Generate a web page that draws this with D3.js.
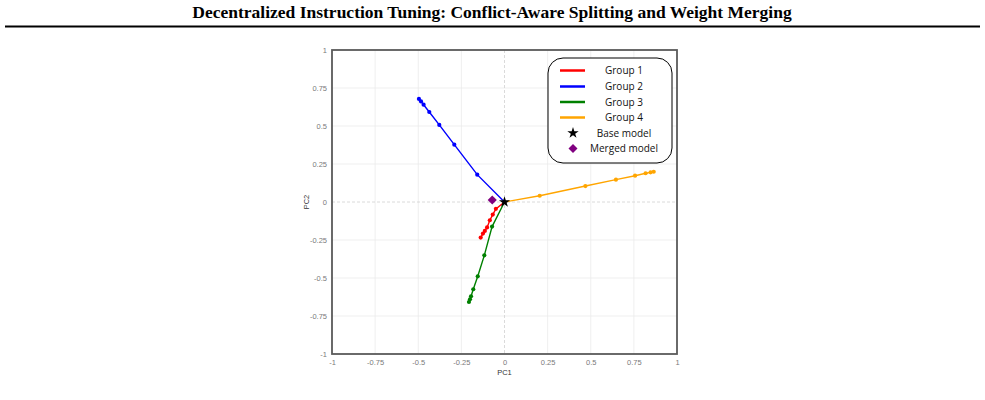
<!DOCTYPE html>
<html>
<head>
<meta charset="utf-8">
<script src="https://cdn.jsdelivr.net/npm/d3@7"></script>
<style>
body { margin: 0; background: #fff; }
</style>
</head>
<body>
<div id="chart"></div>
<script>
var svgwidth = 985;
var svgheight = 400;

var title = "Decentralized Instruction Tuning: Conflict-Aware Splitting and Weight Merging";

var tickvalues = [-1, -0.75, -0.5, -0.25, 0, 0.25, 0.5, 0.75, 1];
var ticklabels = ["-1", "-0.75", "-0.5", "-0.25", "0", "0.25", "0.5", "0.75", "1"];

var groupnames = ["Group 1", "Group 2", "Group 3", "Group 4"];
var groupcolors = ["#ff0000", "#0000ff", "#008000", "#ffa500"];

// trajectory points (PC1, PC2) for each group, going away from the base model
var group1 = [[-0.05, -0.045], [-0.068, -0.083], [-0.085, -0.12], [-0.101, -0.167], [-0.114, -0.19], [-0.125, -0.208], [-0.138, -0.234]];
var group2 = [[-0.158, 0.18], [-0.291, 0.377], [-0.378, 0.507], [-0.436, 0.592], [-0.469, 0.64], [-0.484, 0.662], [-0.496, 0.678]];
var group3 = [[-0.072, -0.162], [-0.117, -0.351], [-0.155, -0.489], [-0.181, -0.574], [-0.194, -0.62], [-0.2, -0.64], [-0.206, -0.658]];
var group4 = [[0.204, 0.041], [0.469, 0.105], [0.646, 0.147], [0.757, 0.173], [0.818, 0.189], [0.847, 0.195], [0.865, 0.199]];

var basemodel = [0, 0];
var mergedmodel = [-0.071, 0.013];

var groups = [group1, group2, group3, group4];

var plot = { left: 332, right: 677, top: 50, bottom: 354 };

var svg = d3.select("#chart")
    .append("svg")
    .attr("width", svgwidth)
    .attr("height", svgheight);

// page header
svg.append("text")
    .attr("x", 492)
    .attr("y", 18)
    .attr("text-anchor", "middle")
    .style("font-family", "'Liberation Serif', 'Times New Roman', serif")
    .style("font-weight", "bold")
    .style("font-size", "17.5px")
    .text(title);

svg.append("line")
    .attr("x1", 5).attr("x2", 980)
    .attr("y1", 26.5).attr("y2", 26.5)
    .attr("stroke", "#000")
    .attr("stroke-width", 2);

var xscale = d3.scaleLinear().domain([-1, 1]).range([plot.left, plot.right]);
var yscale = d3.scaleLinear().domain([-1, 1]).range([plot.bottom, plot.top]);

var chart = svg.append("g");

// grid
chart.append("g").selectAll("line")
    .data(tickvalues.filter(function(d) { return d !== 0; }))
    .enter().append("line")
    .attr("x1", function(d) { return xscale(d); })
    .attr("x2", function(d) { return xscale(d); })
    .attr("y1", plot.top).attr("y2", plot.bottom)
    .attr("stroke", "#ebebeb").attr("stroke-width", 0.8);

chart.append("g").selectAll("line")
    .data(tickvalues.filter(function(d) { return d !== 0; }))
    .enter().append("line")
    .attr("y1", function(d) { return yscale(d); })
    .attr("y2", function(d) { return yscale(d); })
    .attr("x1", plot.left).attr("x2", plot.right)
    .attr("stroke", "#ebebeb").attr("stroke-width", 0.8);

// zero lines
chart.append("line")
    .attr("x1", xscale(0)).attr("x2", xscale(0))
    .attr("y1", plot.top).attr("y2", plot.bottom)
    .attr("stroke", "#d0d0d0").attr("stroke-width", 0.8)
    .attr("stroke-dasharray", "3,2");
chart.append("line")
    .attr("y1", yscale(0)).attr("y2", yscale(0))
    .attr("x1", plot.left).attr("x2", plot.right)
    .attr("stroke", "#d0d0d0").attr("stroke-width", 0.8)
    .attr("stroke-dasharray", "3,2");

// axes
var bottomaxis = d3.axisBottom(xscale)
    .tickValues(tickvalues)
    .tickSize(0)
    .tickPadding(6)
    .tickFormat(function(d, i) { return ticklabels[i]; });
var leftaxis = d3.axisLeft(yscale)
    .tickValues(tickvalues)
    .tickSize(0)
    .tickPadding(5)
    .tickFormat(function(d, i) { return ticklabels[i]; });

var xaxis = chart.append("g")
    .attr("transform", `translate(0, ${plot.bottom})`)
    .call(bottomaxis);
var yaxis = chart.append("g")
    .attr("transform", `translate(${plot.left}, 0)`)
    .call(leftaxis);

[xaxis, yaxis].forEach(function(a) {
    a.select(".domain").remove();
    a.selectAll("text")
        .attr("fill", "#7a7a7a")
        .style("font-family", "'Liberation Sans', Arial, sans-serif")
        .style("font-size", "7.5px");
});

// frame
chart.append("rect")
    .attr("x", plot.left).attr("y", plot.top)
    .attr("width", plot.right - plot.left)
    .attr("height", plot.bottom - plot.top)
    .attr("fill", "none")
    .attr("stroke", "#5a5a5a")
    .attr("stroke-width", 1.8);

// axis titles
chart.append("text")
    .attr("x", xscale(0))
    .attr("y", 375)
    .attr("text-anchor", "middle")
    .style("font-family", "'Liberation Sans', Arial, sans-serif")
    .style("font-size", "7.5px")
    .attr("fill", "#333")
    .text("PC1");

chart.append("text")
    .attr("transform", `translate(309, ${yscale(0)}) rotate(-90)`)
    .attr("text-anchor", "middle")
    .style("font-family", "'Liberation Sans', Arial, sans-serif")
    .style("font-size", "7.5px")
    .attr("fill", "#333")
    .text("PC2");

// trajectories
var line = d3.line()
    .x(function(d) { return xscale(d[0]); })
    .y(function(d) { return yscale(d[1]); });

groups.forEach(function(g, i) {
    var pts = [basemodel].concat(g);
    chart.append("path")
        .attr("d", line(pts))
        .attr("fill", "none")
        .attr("stroke", groupcolors[i])
        .attr("stroke-width", 1.4);
    chart.append("g").selectAll("circle")
        .data(g)
        .enter().append("circle")
        .attr("cx", function(d) { return xscale(d[0]); })
        .attr("cy", function(d) { return yscale(d[1]); })
        .attr("r", 2.1)
        .attr("fill", groupcolors[i]);
});

var star = d3.symbol().type(d3.symbolStar).size(38);
var diamond = d3.symbol().type(d3.symbolSquare).size(42);

chart.append("path")
    .attr("d", diamond())
    .attr("transform", `translate(${xscale(mergedmodel[0])}, ${yscale(mergedmodel[1])}) rotate(45)`)
    .attr("fill", "#800080");

chart.append("path")
    .attr("d", star())
    .attr("transform", `translate(${xscale(basemodel[0])}, ${yscale(basemodel[1])})`)
    .attr("fill", "#000");

// legend
var legend = svg.append("g");
legend.append("rect")
    .attr("x", 548).attr("y", 58)
    .attr("width", 124).attr("height", 105)
    .attr("rx", 15).attr("ry", 15)
    .attr("fill", "#fff")
    .attr("stroke", "#000")
    .attr("stroke-width", 1);

var legendrows = [70.5, 86.5, 102, 117.5, 133, 148.5];
var legendfont = "'Open Sans', 'Noto Sans', sans-serif";

groupnames.forEach(function(name, i) {
    legend.append("line")
        .attr("x1", 560).attr("x2", 585)
        .attr("y1", legendrows[i]).attr("y2", legendrows[i])
        .attr("stroke", groupcolors[i])
        .attr("stroke-width", 2.5);
    legend.append("text")
        .attr("x", 624).attr("y", legendrows[i])
        .attr("dy", "0.35em")
        .attr("text-anchor", "middle")
        .style("font-family", legendfont)
        .style("font-size", "10px")
        .attr("fill", "#111")
        .text(name);
});

legend.append("path")
    .attr("d", d3.symbol().type(d3.symbolStar).size(40)())
    .attr("transform", `translate(573, ${legendrows[4]})`)
    .attr("fill", "#000");
legend.append("text")
    .attr("x", 624).attr("y", legendrows[4])
    .attr("dy", "0.35em")
    .attr("text-anchor", "middle")
    .style("font-family", legendfont)
    .style("font-size", "10px")
    .attr("fill", "#111")
    .text("Base model");

legend.append("path")
    .attr("d", d3.symbol().type(d3.symbolSquare).size(40)())
    .attr("transform", `translate(573, ${legendrows[5]}) rotate(45)`)
    .attr("fill", "#800080");
legend.append("text")
    .attr("x", 624).attr("y", legendrows[5])
    .attr("dy", "0.35em")
    .attr("text-anchor", "middle")
    .style("font-family", legendfont)
    .style("font-size", "10px")
    .attr("fill", "#111")
    .text("Merged model");
</script>
</body>
</html>
